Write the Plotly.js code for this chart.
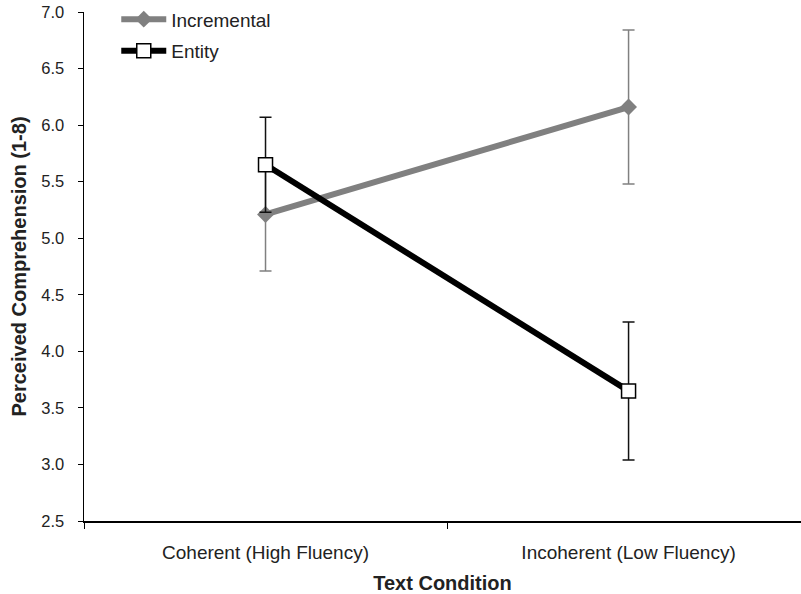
<!DOCTYPE html>
<html>
<head>
<meta charset="utf-8">
<script src="https://cdn.plot.ly/plotly-3.0.1.min.js"></script>
<style>html,body{margin:0;padding:0;background:#fff}#chart{width:801px;height:594px}</style>
</head>
<body>
<div id="chart"></div>
<script>
const categories = ["Coherent (High Fluency)", "Incoherent (Low Fluency)"];
const incrementalValues = [5.21, 6.16];
const incrementalErrors = [0.50, 0.68];
const entityValues = [5.65, 3.65];
const entityErrors = [0.42, 0.61];
const seriesNames = ["Incremental", "Entity"];
const yTickValues = [2.5, 3.0, 3.5, 4.0, 4.5, 5.0, 5.5, 6.0, 6.5, 7.0];
const yTickLabels = ["2.5", "3.0", "3.5", "4.0", "4.5", "5.0", "5.5", "6.0", "6.5", "7.0"];

const font = "Liberation Sans, Arial, sans-serif";

const traces = [
  {
    x: categories, y: incrementalValues, name: seriesNames[0], type: "scatter", mode: "lines+markers",
    legendgroup: "a",
    line: {color: "#808080", width: 6},
    marker: {symbol: "diamond", size: 13, color: "#808080"},
    error_y: {type: "data", array: incrementalErrors, visible: true, color: "#808080", thickness: 1.5, width: 6}
  },
  {
    x: categories, y: entityValues, name: seriesNames[1], type: "scatter", mode: "lines+markers",
    legendgroup: "b",
    line: {color: "#000000", width: 6},
    marker: {symbol: "square", size: 14, color: "#ffffff", line: {color: "#000000", width: 1.5}},
    error_y: {type: "data", array: entityErrors, visible: true, color: "#111111", thickness: 1.5, width: 6}
  }
];

const layout = {
  width: 801, height: 594,
  margin: {l: 84, r: 0, t: 12, b: 73},
  paper_bgcolor: "#fff", plot_bgcolor: "#fff",
  font: {family: font, size: 16, color: "#222"},
  showlegend: true,
  legend: {x: 0.045, y: 1.023, xanchor: "left", yanchor: "top", bgcolor: "rgba(0,0,0,0)",
    itemwidth: 45,
    font: {family: font, size: 19, color: "#222"}, traceorder: "grouped", tracegroupgap: 4},
  xaxis: {
    type: "category", range: [-0.5, 1.475], showgrid: false, zeroline: false,
    showline: true, linecolor: "#000", linewidth: 1.5,
    ticks: "outside", tickson: "boundaries", ticklen: 6, tickcolor: "#000",
    ticklabelstandoff: 14,
    tickfont: {family: font, size: 19, color: "#222"},
    title: {text: "<b>Text Condition</b>", font: {family: font, size: 20, color: "#222"}, standoff: 13}
  },
  yaxis: {
    range: [2.5, 7.0], showgrid: false, zeroline: false,
    showline: true, linecolor: "#000", linewidth: 1.5,
    ticks: "outside", ticklen: 5, tickcolor: "#000",
    tickvals: yTickValues, ticktext: yTickLabels,
    ticklabelstandoff: 10,
    tickfont: {family: font, size: 16.5, color: "#222"},
    title: {text: "<b>Perceived Comprehension (1-8)</b>", font: {family: font, size: 20, color: "#222"}, standoff: 9}
  }
};

Plotly.newPlot("chart", traces, layout, {displayModeBar: false, staticPlot: true});
</script>
</body>
</html>
